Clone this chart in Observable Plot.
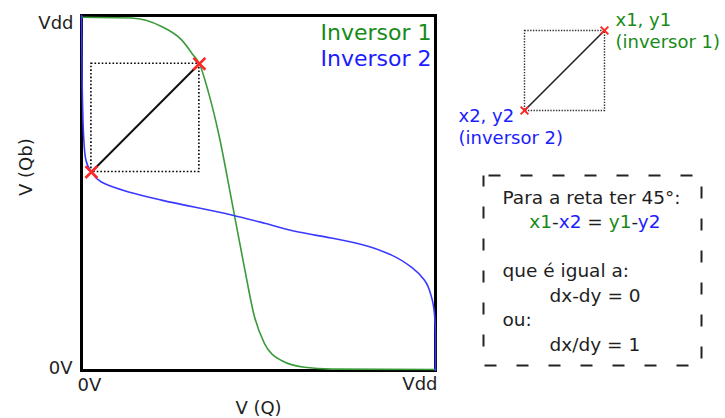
<!DOCTYPE html>
<html>
<head>
<meta charset="utf-8">
<script src="https://cdn.jsdelivr.net/npm/d3@7"></script>
<script src="https://cdn.jsdelivr.net/npm/@observablehq/plot@0.6"></script>
<style>
  body { margin: 0; background: #fff; }
  #chart { position: relative; width: 725px; height: 418px; overflow: hidden; }
  #chart svg { position: absolute; }
</style>
</head>
<body>
<div id="chart"></div>
<script>
// Butterfly curves of the two cross-coupled inverters (normalised: 0 = 0V, 1 = Vdd)
const series = ["Inversor 1", "Inversor 2"];

// Inversor 1: V(Qb) as a function of V(Q)
const inversor1 = [
  [0, 0.995], [0.141, 0.993], [0.226, 0.969], [0.282, 0.932], [0.316, 0.888],
  [0.333, 0.864], [0.359, 0.782], [0.387, 0.669], [0.424, 0.48], [0.46, 0.291],
  [0.489, 0.15], [0.517, 0.076], [0.565, 0.028], [0.63, 0.009], [0.706, 0.004], [1, 0.003]
];

// Inversor 2: V(Q) as a function of V(Qb), listed by rising V(Qb)
const inversor2 = [
  [1, 0], [1, 0.1], [0.997, 0.16], [0.989, 0.206], [0.969, 0.254], [0.932, 0.291],
  [0.876, 0.325], [0.799, 0.353], [0.706, 0.373], [0.613, 0.39], [0.517, 0.415],
  [0.424, 0.438], [0.226, 0.48], [0.133, 0.503], [0.056, 0.531], [0.028, 0.559],
  [0.011, 0.6], [0.006, 0.66], [0.003, 0.75], [0.001, 0.9], [0, 1]
];

// Corners of the largest 45° square between the curves
const crossPoints = [
  {x: 0.333, y: 0.864}, // x1, y1 on inversor 1
  {x: 0.028, y: 0.559}  // x2, y2 on inversor 2
];

const tickValues = [0, 1];
const tickLabels = ["0V", "Vdd"];
const axisTitles = ["V (Q)", "V (Qb)"];

// Inset sketch of the square
const insetPoints = [
  {x: 1, y: 1, label: "x1, y1\n(inversor 1)"},
  {x: 0, y: 0, label: "x2, y2\n(inversor 2)"}
];

// Notes in the dashed box
const boxLines = ["Para a reta ter 45°:", "x1-x2 = y1-y2", "", "que é igual a:", "dx-dy = 0", "ou:", "dx/dy = 1"];
const eqParts = ["x1", "-", "x2", " = ", "y1", "-", "y2"];

const FONT = "'DejaVu Sans', Verdana, sans-serif";
const green = "#3b9b3b", greenText = "#178a17";
const blue = "#3a3aff", blueText = "#1c1cff";
const red = "#ff2626", ink = "#1e1e1e";

const chart = document.getElementById("chart");
const baseStyle = {background: "transparent", fontFamily: FONT, color: ink, overflow: "visible"};

const main = Plot.plot({
  width: 725, height: 418,
  marginLeft: 81, marginRight: 290, marginTop: 15, marginBottom: 48,
  x: {domain: [0, 1], axis: null},
  y: {domain: [0, 1], axis: null},
  style: baseStyle,
  marks: [
    Plot.frame({stroke: "black", strokeWidth: 3}),
    Plot.rect([crossPoints], {
      x1: d => d[1].x, x2: d => d[0].x, y1: d => d[1].y, y2: d => d[0].y,
      fill: "none", stroke: "black", strokeWidth: 1.6, strokeDasharray: "1.6,2"
    }),
    Plot.line(inversor1, {x: d => d[0], y: d => d[1], stroke: green, strokeWidth: 1.6, curve: "monotone-x"}),
    Plot.line(inversor2, {x: d => d[0], y: d => d[1], stroke: blue, strokeWidth: 1.6, curve: "monotone-y"}),
    Plot.line(crossPoints, {x: "x", y: "y", stroke: "#111", strokeWidth: 2}),
    Plot.dot(crossPoints, {x: "x", y: "y", symbol: "times", r: 5.5, stroke: red, strokeWidth: 2.6}),
    // tick labels
    Plot.text([tickValues[0]], {x: d => d, frameAnchor: "bottom", text: [tickLabels[0]], textAnchor: "start", lineAnchor: "bottom", dx: -4, dy: 20, fontSize: 18, fill: ink}),
    Plot.text([tickValues[1]], {x: d => d, frameAnchor: "bottom", text: [tickLabels[1]], textAnchor: "end", lineAnchor: "bottom", dx: 2, dy: 19, fontSize: 18, fill: ink}),
    Plot.text([tickValues[1]], {y: d => d, frameAnchor: "left", text: [tickLabels[1]], textAnchor: "end", lineAnchor: "bottom", dx: -8, dy: 13, fontSize: 18, fill: ink}),
    Plot.text([tickValues[0]], {y: d => d, frameAnchor: "left", text: [tickLabels[0]], textAnchor: "end", lineAnchor: "bottom", dx: -9, dy: 3, fontSize: 18, fill: ink}),
    // axis titles
    Plot.text([axisTitles[0]], {frameAnchor: "bottom", text: d => d, lineAnchor: "bottom", dy: 43, fontSize: 18, fill: ink}),
    Plot.text([axisTitles[1]], {frameAnchor: "left", text: d => d, rotate: -90, lineAnchor: "bottom", dx: -50, dy: 3, fontSize: 18, fill: ink}),
    // series names
    Plot.text([series[0]], {frameAnchor: "top-right", text: d => d, textAnchor: "end", lineAnchor: "bottom", dx: -4, dy: 24, fontSize: 22, fill: greenText}),
    Plot.text([series[1]], {frameAnchor: "top-right", text: d => d, textAnchor: "end", lineAnchor: "bottom", dx: -4, dy: 50, fontSize: 22, fill: blueText})
  ]
});
chart.appendChild(main);
main.style.left = "0px"; main.style.top = "0px";

// Small sketch: the square spans the unit square of its own scales
const inset = Plot.plot({
  width: 285, height: 160,
  marginLeft: 84, marginRight: 121, marginTop: 30, marginBottom: 50,
  x: {domain: [0, 1], axis: null},
  y: {domain: [0, 1], axis: null},
  style: baseStyle,
  marks: [
    Plot.frame({stroke: "#333", strokeWidth: 1.4, strokeDasharray: "1.4,1.4"}),
    Plot.line(insetPoints, {x: "x", y: "y", stroke: "#222", strokeWidth: 1.6}),
    Plot.dot(insetPoints, {x: "x", y: "y", symbol: "times", r: 3.6, stroke: red, strokeWidth: 2}),
    Plot.text([insetPoints[0]], {x: "x", y: "y", text: "label", textAnchor: "start", lineAnchor: "bottom", lineHeight: 1.22, dx: 11, dy: 17, fontSize: 18, fill: greenText}),
    Plot.text([insetPoints[1]], {x: "x", y: "y", text: "label", textAnchor: "start", lineAnchor: "bottom", lineHeight: 1.17, dx: -66, dy: 33, fontSize: 18, fill: blueText})
  ]
});
chart.appendChild(inset);
inset.style.left = "440px"; inset.style.top = "0px";

// Dashed note box; text rows on a line-index scale
const indent = [0, 0.57, 0, 0, 1, 0, 1];
const box = Plot.plot({
  width: 240, height: 210,
  marginLeft: 8, marginRight: 14, marginTop: 10, marginBottom: 10,
  x: {domain: [0, 1], range: [27, 74], axis: null},
  y: {domain: [0, 6], range: [38, 185], axis: null},
  style: baseStyle,
  marks: [
    Plot.frame({stroke: "#222", strokeWidth: 2, strokeDasharray: "12,20", strokeDashoffset: 27}),
    Plot.text(boxLines, {x: (d, i) => indent[i], y: (d, i) => i, text: d => d, textAnchor: "start", lineAnchor: "bottom", fontSize: 18.5, fill: ink})
  ]
});
chart.appendChild(box);
box.style.left = "475px"; box.style.top = "165px";

// Colour the terms of the equation by inverter
const eqColors = [greenText, ink, blueText, ink, greenText, ink, blueText];
d3.select(box).selectAll("text").filter(function () { return this.textContent === boxLines[1]; })
  .each(function () {
    const t = d3.select(this).text(null).style("white-space", "pre");
    eqParts.forEach((p, i) => t.append("tspan").attr("fill", eqColors[i]).text(p));
  });
</script>
</body>
</html>
